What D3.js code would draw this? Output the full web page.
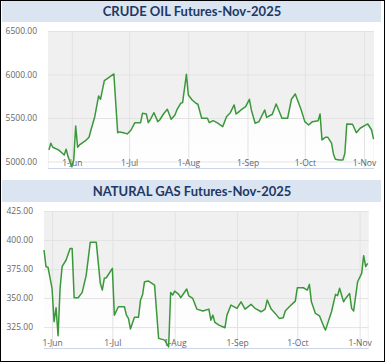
<!DOCTYPE html>
<html>
<head>
<meta charset="utf-8">
<script src="https://cdn.jsdelivr.net/npm/d3@7"></script>
<style>
  body { margin: 0; background: #fff; }
  svg { display: block; font-family: "Open Sans", sans-serif; }
</style>
</head>
<body>
<svg id="chart" width="385" height="362"></svg>
<script>
// crude oil, Nov-2025 contract
var oilDates = ["2025-05-20","2025-05-21","2025-05-22","2025-05-25","2025-05-27","2025-05-28","2025-05-29","2025-05-30","2025-05-31",
  "2025-06-01","2025-06-02","2025-06-03","2025-06-04","2025-06-05","2025-06-08","2025-06-10","2025-06-11","2025-06-13","2025-06-15",
  "2025-06-16","2025-06-18","2025-06-19","2025-06-21","2025-06-23","2025-06-25","2025-06-26","2025-06-28","2025-06-30",
  "2025-07-02","2025-07-04","2025-07-07","2025-07-08","2025-07-10","2025-07-11","2025-07-12","2025-07-14","2025-07-16","2025-07-17",
  "2025-07-19","2025-07-21","2025-07-23","2025-07-25","2025-07-26","2025-07-28","2025-07-29","2025-07-31",
  "2025-08-01","2025-08-03","2025-08-05","2025-08-06","2025-08-08","2025-08-11","2025-08-12","2025-08-14","2025-08-16","2025-08-19",
  "2025-08-21","2025-08-23","2025-08-25","2025-08-26","2025-08-27","2025-08-29","2025-08-31",
  "2025-09-02","2025-09-03","2025-09-05","2025-09-07","2025-09-10","2025-09-11","2025-09-14","2025-09-16","2025-09-18","2025-09-19",
  "2025-09-22","2025-09-24","2025-09-26","2025-09-29",
  "2025-10-01","2025-10-03","2025-10-05","2025-10-08","2025-10-09","2025-10-10","2025-10-12","2025-10-13","2025-10-15","2025-10-16",
  "2025-10-17","2025-10-19","2025-10-21","2025-10-22","2025-10-23","2025-10-26","2025-10-28","2025-10-30",
  "2025-11-02","2025-11-03","2025-11-05","2025-11-06"];
var oilValues = [5133,5210,5164,5133,5095,5075,5141,5056,4998,
  4941,5018,5408,5164,5190,5236,5279,5362,5515,5753,
  5715,5929,5945,5975,6006,5331,5340,5331,5317,
  5362,5446,5446,5554,5546,5446,5477,5561,5458,5477,
  5546,5600,5485,5535,5592,5669,5677,6002,
  5765,5707,5669,5658,5497,5497,5446,5469,5446,5400,
  5515,5561,5650,5546,5561,5600,5630,
  5715,5592,5439,5458,5592,5508,5543,5661,5554,5497,
  5497,5715,5776,5600,
  5458,5420,5458,5469,5546,5248,5279,5279,5210,5087,
  5026,5018,5018,5095,5431,5428,5331,5382,
  5420,5431,5362,5256];
var oilTicks = [5000, 5500, 6000, 6500];

// natural gas, Nov-2025 contract
var gasDates = ["2025-05-28","2025-05-29","2025-05-30",
  "2025-06-01","2025-06-02","2025-06-03","2025-06-04","2025-06-05","2025-06-06","2025-06-08","2025-06-10","2025-06-11","2025-06-12",
  "2025-06-14","2025-06-16","2025-06-18","2025-06-20","2025-06-23","2025-06-25","2025-06-26","2025-06-27","2025-06-28",
  "2025-07-01","2025-07-02","2025-07-04","2025-07-07","2025-07-08","2025-07-09","2025-07-10","2025-07-12","2025-07-14","2025-07-15",
  "2025-07-16","2025-07-17","2025-07-19","2025-07-22","2025-07-24","2025-07-27","2025-07-29","2025-07-30","2025-07-31",
  "2025-08-01","2025-08-03","2025-08-04","2025-08-07","2025-08-08","2025-08-10","2025-08-12","2025-08-15","2025-08-18","2025-08-19",
  "2025-08-20","2025-08-21","2025-08-23","2025-08-26","2025-08-27","2025-08-29",
  "2025-09-01","2025-09-03","2025-09-05","2025-09-08","2025-09-10","2025-09-13","2025-09-15","2025-09-16","2025-09-18","2025-09-20",
  "2025-09-22","2025-09-24","2025-09-25","2025-09-27","2025-09-30",
  "2025-10-01","2025-10-04","2025-10-06","2025-10-07","2025-10-08","2025-10-10","2025-10-12","2025-10-14","2025-10-15","2025-10-18",
  "2025-10-20","2025-10-21","2025-10-22","2025-10-24","2025-10-25","2025-10-27","2025-10-28","2025-10-29","2025-10-31",
  "2025-11-02","2025-11-03","2025-11-04","2025-11-05"];
var gasValues = [391.4,377,376.5,
  358.4,329.6,341.6,317.5,358.4,377,382.8,392.8,392.8,350.3,
  350.3,354.9,369.8,398,398,362.7,356.9,367,367.5,
  375.6,335.3,342.5,342.5,335.3,332.5,323.3,333.4,333.4,348.3,
  352.6,364.1,364.7,361.2,315.3,313.8,308,354.9,352.6,
  356,353.2,350.3,357.8,352,349.7,340.5,338.8,340.5,331,
  335.3,329,326.7,324.4,335.3,344,
  341.1,346.8,340.5,344.6,341.1,338.2,340.5,348.3,340.5,336.8,
  332.5,333,338.8,342.5,347.4,
  358.9,358.9,356.9,361.8,346.8,336.8,334.7,326.1,322.4,338.2,
  353.2,352,358.4,346.8,349.7,354,341.1,338.8,364.1,
  371.3,386.5,377,379.9];
var gasTicks = [325, 350, 375, 400, 425];

var monthTicks = ["2025-06-01","2025-07-01","2025-08-01","2025-09-01","2025-10-01","2025-11-01"];
var monthLabels = ["1-Jun","1-Jul","1-Aug","1-Sep","1-Oct","1-Nov"];

var parseDate = d3.timeParse("%Y-%m-%d");
var svg = d3.select("#chart");

// outer frame
svg.append("rect")
  .attr("x", 0.5).attr("y", 0.5)
  .attr("width", 384).attr("height", 361)
  .attr("fill", "#fff")
  .attr("stroke", "#000");

// soft fill under the line
var defs = svg.append("defs");
var grad = defs.append("linearGradient")
  .attr("id", "underFill")
  .attr("x1", 0).attr("y1", 0).attr("x2", 0).attr("y2", 1);
grad.append("stop").attr("offset", "0%").attr("stop-color", "#f9f9f9");
grad.append("stop").attr("offset", "100%").attr("stop-color", "#ffffff");

function drawPanel(p) {
  // title band
  svg.append("rect")
    .attr("x", 2).attr("y", p.bandTop)
    .attr("width", 379).attr("height", p.bandH)
    .attr("fill", "#dbe5f1");

  svg.append("text")
    .attr("x", 192)
    .attr("y", p.bandTop + p.bandH / 2)
    .attr("dy", "0.36em")
    .attr("text-anchor", "middle")
    .style("font-family", "Lato, sans-serif")
    .style("font-weight", "bold")
    .style("font-size", "13px")
    .attr("fill", "#1f3864")
    .text(p.title);

  var data = p.dates.map(function(d, i) {
    return { date: parseDate(d), value: p.values[i] };
  });

  var x = d3.scaleTime().domain(p.xDomain).range([p.left, p.right]);
  var y = d3.scaleLinear().domain(p.yDomain).range([p.bottom, p.top]);

  // plot background
  svg.append("rect")
    .attr("x", p.left).attr("y", p.top)
    .attr("width", p.right - p.left).attr("height", p.bottom - p.top)
    .attr("fill", "#f0f0f0");

  // area under the line
  var area = d3.area()
    .x(function(d) { return x(d.date); })
    .y0(p.bottom)
    .y1(function(d) { return y(d.value); });

  svg.append("path")
    .datum(data)
    .attr("d", area)
    .attr("fill", "url(#underFill)");

  // grid lines
  var yGrid = svg.append("g")
    .attr("transform", "translate(" + p.left + ",0)")
    .call(d3.axisLeft(y).tickValues(p.ticks).tickSize(-(p.right - p.left)).tickFormat(""));
  yGrid.select(".domain").remove();
  yGrid.selectAll("line").attr("stroke", "#e3e3e3");

  var xGrid = svg.append("g")
    .attr("transform", "translate(0," + p.bottom + ")")
    .call(d3.axisBottom(x).tickValues(monthTicks.map(parseDate)).tickSize(-(p.bottom - p.top)).tickFormat(""));
  xGrid.select(".domain").remove();
  xGrid.selectAll("line").attr("stroke", "#e3e3e3");

  // y labels
  var yAxis = svg.append("g")
    .attr("transform", "translate(" + p.left + ",0)")
    .call(d3.axisLeft(y).tickValues(p.ticks).tickSize(0).tickPadding(11).tickFormat(d3.format(".2f")));
  yAxis.select(".domain").remove();
  yAxis.selectAll("text")
    .attr("fill", "#666")
    .style("font-family", "Open Sans, sans-serif")
    .style("font-size", "8.5px");

  // x labels sit just inside the bottom of the plot
  var xAxis = svg.append("g")
    .attr("transform", "translate(0," + p.bottom + ")")
    .call(d3.axisBottom(x).tickValues(monthTicks.map(parseDate)).tickSize(0)
      .tickFormat(function(d, i) { return monthLabels[i]; }));
  xAxis.select(".domain").remove();
  xAxis.selectAll("text")
    .attr("y", -4.5)
    .attr("dy", "0.32em")
    .attr("fill", "#666")
    .style("font-family", "Open Sans, sans-serif")
    .style("font-size", "8.5px");

  // base line
  svg.append("line")
    .attr("x1", p.left).attr("x2", p.right)
    .attr("y1", p.bottom + 0.5).attr("y2", p.bottom + 0.5)
    .attr("stroke", "#ccd6eb");

  var line = d3.line()
    .x(function(d) { return x(d.date); })
    .y(function(d) { return y(d.value); });

  svg.append("path")
    .datum(data)
    .attr("d", line)
    .attr("fill", "none")
    .attr("stroke", "#3a983a")
    .attr("stroke-width", 1.5)
    .attr("stroke-linejoin", "round");
}

drawPanel({
  title: "CRUDE OIL Futures-Nov-2025",
  bandTop: 1, bandH: 21,
  dates: oilDates, values: oilValues, ticks: oilTicks,
  xDomain: [new Date(2025, 4, 19, 12), new Date(2025, 10, 6, 6)],
  yDomain: [4925, 6500],
  left: 48, right: 374, top: 31, bottom: 168
});

drawPanel({
  title: "NATURAL GAS Futures-Nov-2025",
  bandTop: 180, bandH: 22,
  dates: gasDates, values: gasValues, ticks: gasTicks,
  xDomain: [new Date(2025, 4, 28), new Date(2025, 10, 5, 12)],
  yDomain: [307, 425],
  left: 44, right: 368.7, top: 211, bottom: 348
});
</script>
</body>
</html>
